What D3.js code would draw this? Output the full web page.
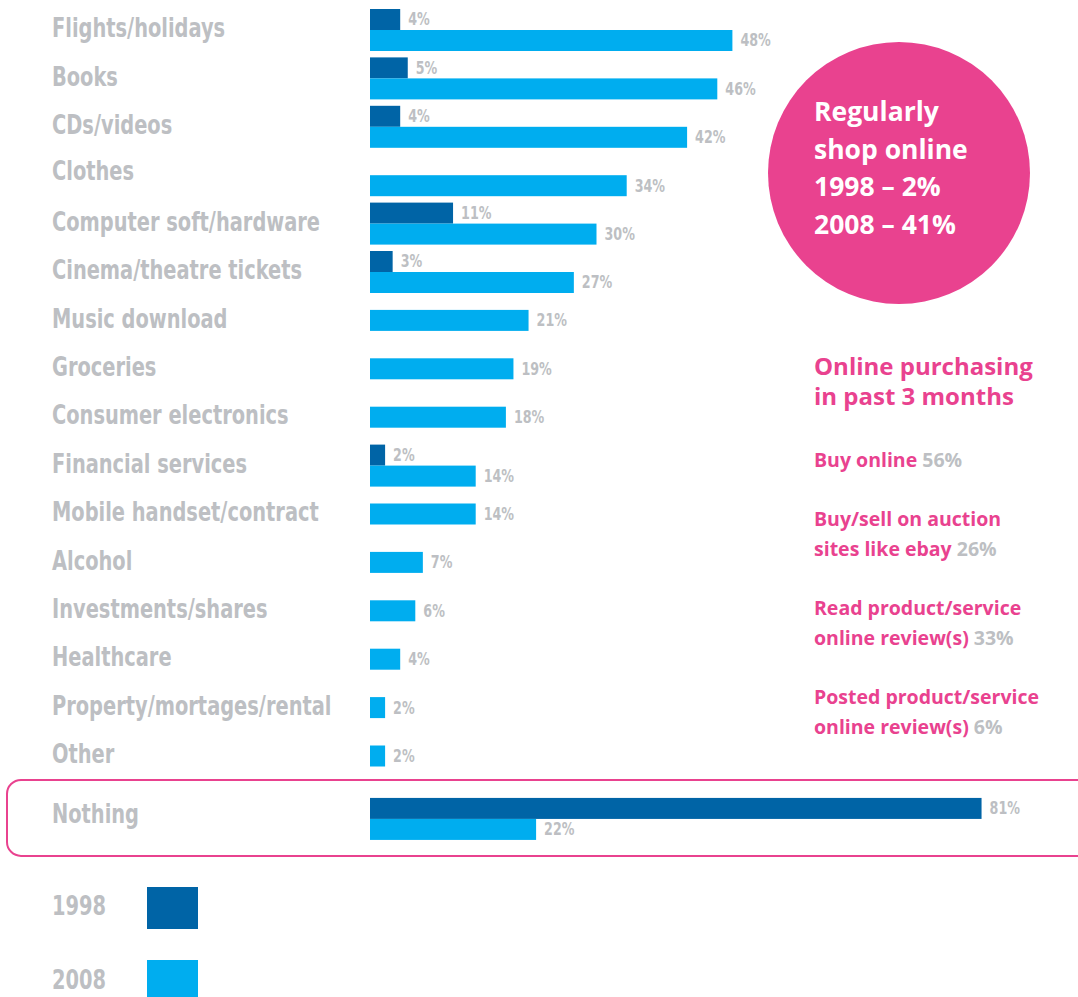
<!DOCTYPE html>
<html>
<head>
<meta charset="utf-8">
<script src="https://cdn.jsdelivr.net/npm/d3@7.9.0/dist/d3.min.js"></script>
<style>
  body { margin: 0; background: #fff; }
  svg { display: block; }
  .cat { font-family: "DejaVu Sans Condensed", "DejaVu Sans", sans-serif; font-weight: bold; fill: #bdbfc3; }
  .val { font-family: "DejaVu Sans Condensed", "DejaVu Sans", sans-serif; font-weight: bold; fill: #bdbfc3; }
  .round { font-family: "Open Sans", "Noto Sans", sans-serif; font-weight: bold; }
</style>
</head>
<body>
<svg id="chart"></svg>
<script>
// Data
const categories = ["Flights/holidays", "Books", "CDs/videos", "Clothes", "Computer soft/hardware",
    "Cinema/theatre tickets", "Music download", "Groceries", "Consumer electronics", "Financial services",
    "Mobile handset/contract", "Alcohol", "Investments/shares", "Healthcare", "Property/mortages/rental",
    "Other", "Nothing"];
const values1998 = [4, 5, 4, null, 11, 3, null, null, null, 2, null, null, null, null, null, null, 81];
const values2008 = [48, 46, 42, 34, 30, 27, 21, 19, 18, 14, 14, 7, 6, 4, 2, 2, 22];
const years = ["1998", "2008"];
const regularYears = ["1998", "2008"];
const regularShare = [2, 41];
const activities = [["Buy online"], ["Buy/sell on auction", "sites like ebay"],
    ["Read product/service", "online review(s)"], ["Posted product/service", "online review(s)"]];
const activityShare = [56, 26, 33, 6];

const width = 1078, height = 997;
const colors = { "1998": "#0064a6", "2008": "#00adef" };
const pink = "#e9428f";
const grey = "#bdbfc3";
const barH = 21;
const squeeze = 0.83; // condensed look for the label font

const svg = d3.select("#chart").attr("width", width).attr("height", height);

const rows = categories.map((c, i) => ({ cat: c, v1998: values1998[i], v2008: values2008[i] }));
const mainRows = rows.slice(0, rows.length - 1);
const lastRow = rows[rows.length - 1];

const x = d3.scaleLinear().domain([0, 100]).range([370, 1125]);
const y = d3.scalePoint().domain(mainRows.map(d => d.cat)).range([30, 756]);
const rowY = d => d.cat === lastRow.cat ? y(mainRows[mainRows.length - 1].cat) + y.step() * 1.3 : y(d.cat);

// Highlight box round "Nothing"
svg.append("rect")
    .attr("x", 7).attr("y", rowY(lastRow) - 39)
    .attr("width", 1085).attr("height", 76)
    .attr("rx", 14)
    .attr("fill", "none").attr("stroke", pink).attr("stroke-width", 2);

const g = svg.append("g");
const row = g.selectAll("g.row").data(rows).enter().append("g").attr("class", "row")
    .attr("transform", d => `translate(0,${rowY(d)})`);

row.append("text").attr("class", "cat")
    .attr("transform", d => `translate(52,${d.cat === "Clothes" ? -4 : (d.cat === "Nothing" ? -5 : -2)}) scale(${squeeze},1)`)
    .attr("dy", "0.35em")
    .style("font-size", "26px")
    .text(d => d.cat);

// bar placement: pair around centre, single bar centred
const bars = row.selectAll("g.bar")
    .data(d => years.filter(yr => d["v" + yr] != null).map((yr, i, arr) => ({
        year: yr, value: d["v" + yr],
        top: arr.length === 2 ? (i === 0 ? -barH : 0) : (d.cat === "Clothes" ? 0 : -barH / 2)
    })))
    .enter().append("g").attr("class", "bar");

bars.append("rect")
    .attr("x", x(0)).attr("y", d => d.top)
    .attr("width", d => x(d.value) - x(0)).attr("height", barH)
    .attr("fill", d => colors[d.year]);

bars.append("text").attr("class", "val")
    .attr("transform", d => `translate(${x(d.value) + 8},${d.top + barH / 2}) scale(${squeeze},1)`)
    .attr("dy", "0.35em")
    .style("font-size", "17px")
    .text(d => d.value + "%");

// Legend
const legend = svg.append("g").selectAll("g").data(years).enter().append("g")
    .attr("transform", (d, i) => `translate(0,${906 + i * 74})`);
legend.append("text").attr("class", "cat")
    .attr("transform", `translate(52,0) scale(${squeeze},1)`).attr("dy", "0.35em")
    .style("font-size", "26px").text(d => d);
legend.append("rect").attr("x", 147).attr("y", (d, i) => -19 - i * 1).attr("width", 51).attr("height", 42)
    .attr("fill", d => colors[d]);

// Circle
svg.append("circle").attr("cx", 899).attr("cy", 173).attr("r", 131).attr("fill", pink);
const circleLines = ["Regularly", "shop online"].concat(regularYears.map((yr, i) => `${yr} \u2013 ${regularShare[i]}%`));
svg.append("g").selectAll("text").data(circleLines).enter().append("text")
    .attr("class", "round").attr("x", 814).attr("y", (d, i) => 112 + i * 37.5)
    .attr("dy", "0.35em").attr("fill", "#fff").style("font-size", "26.5px")
    .text(d => d);

// Online purchasing panel
svg.append("g").selectAll("text").data(["Online purchasing", "in past 3 months"]).enter().append("text")
    .attr("class", "round").attr("x", 814).attr("y", (d, i) => 367 + i * 30)
    .attr("dy", "0.35em").attr("fill", pink).style("font-size", "24px")
    .text(d => d);

const lineGap = 29.5, itemGap = 30;
let itemY = 460;
activities.forEach((lines, i) => {
    const t = svg.append("g").attr("transform", `translate(814,${itemY})`);
    lines.forEach((ln, j) => {
        const txt = t.append("text").attr("class", "round").attr("y", j * lineGap)
            .attr("dy", "0.35em").style("font-size", "19.5px");
        txt.append("tspan").attr("fill", pink).text(ln);
        if (j === lines.length - 1) {
            txt.append("tspan").attr("fill", grey).text(" " + activityShare[i] + "%");
        }
    });
    itemY += lines.length * lineGap + itemGap;
});
</script>
</body>
</html>
